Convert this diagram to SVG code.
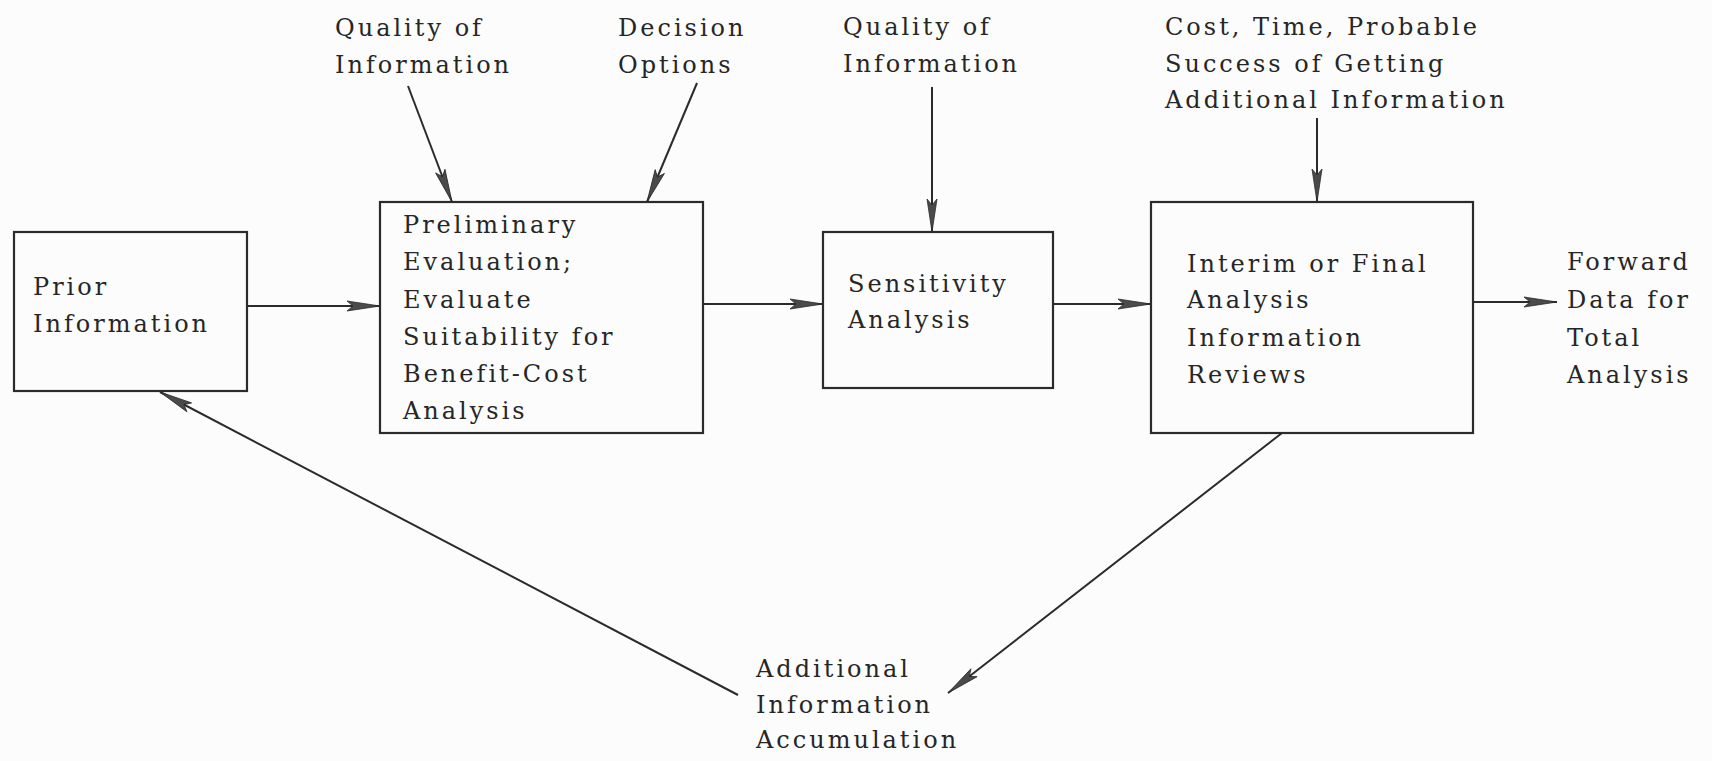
<svg xmlns="http://www.w3.org/2000/svg" width="1712" height="761" viewBox="0 0 1712 761">
  <style>
    .box { fill: none; stroke: #2b2b2b; stroke-width: 2.2; }
    .lbl { font-family: "DejaVu Serif", "Liberation Serif", serif; font-size: 24px; letter-spacing: 3px; fill: #262626; }
    .conn { stroke: #2b2b2b; stroke-width: 2; fill: none; marker-end: url(#arrow); }
  </style>
  <defs>
    <marker id="arrow" markerUnits="userSpaceOnUse" markerWidth="36" markerHeight="12" refX="34" refY="6" orient="auto">
      <path d="M34,6 L1,1 L7,6 L1,11 Z" fill="#4a4a4a" stroke="#2b2b2b" stroke-width="0.8"/>
    </marker>
  </defs>
  <rect width="1712" height="761" fill="#fcfcfc"/>

  <!-- connectors -->
  <g id="connectors">
    <line class="conn" x1="247" y1="306" x2="380" y2="306"/>
    <line class="conn" x1="703" y1="304" x2="823" y2="304"/>
    <line class="conn" x1="1053" y1="304" x2="1151" y2="304"/>
    <line class="conn" x1="1473" y1="302" x2="1557" y2="302"/>
    <line class="conn" x1="408" y1="86" x2="452" y2="202"/>
    <line class="conn" x1="697" y1="83" x2="647" y2="202"/>
    <line class="conn" x1="932" y1="87" x2="932" y2="232"/>
    <line class="conn" x1="1317" y1="118" x2="1317" y2="202"/>
    <line class="conn" x1="1282" y1="433" x2="948" y2="693"/>
    <line class="conn" x1="738" y1="695" x2="160" y2="392"/>
  </g>

  <!-- input labels -->
  <g id="quality-info-1">
    <text class="lbl" x="335" y="36">Quality of</text>
    <text class="lbl" x="335" y="73">Information</text>
  </g>
  <g id="decision-options">
    <text class="lbl" x="618" y="36">Decision</text>
    <text class="lbl" x="618" y="73">Options</text>
  </g>
  <g id="quality-info-2">
    <text class="lbl" x="843" y="35">Quality of</text>
    <text class="lbl" x="843" y="72">Information</text>
  </g>
  <g id="cost-time">
    <text class="lbl" x="1165" y="35">Cost, Time, Probable</text>
    <text class="lbl" x="1165" y="72">Success of Getting</text>
    <text class="lbl" x="1165" y="108">Additional Information</text>
  </g>

  <!-- process boxes -->
  <g id="prior-information">
    <rect class="box" x="14" y="232" width="233" height="159"/>
    <text class="lbl" x="33" y="295">Prior</text>
    <text class="lbl" x="33" y="332">Information</text>
  </g>
  <g id="preliminary-evaluation">
    <rect class="box" x="380" y="202" width="323" height="231"/>
    <text class="lbl" x="403" y="233">Preliminary</text>
    <text class="lbl" x="403" y="270">Evaluation;</text>
    <text class="lbl" x="403" y="308">Evaluate</text>
    <text class="lbl" x="403" y="345">Suitability for</text>
    <text class="lbl" x="403" y="382">Benefit-Cost</text>
    <text class="lbl" x="403" y="419">Analysis</text>
  </g>
  <g id="sensitivity-analysis">
    <rect class="box" x="823" y="232" width="230" height="156"/>
    <text class="lbl" x="848" y="292">Sensitivity</text>
    <text class="lbl" x="848" y="328">Analysis</text>
  </g>
  <g id="interim-final">
    <rect class="box" x="1151" y="202" width="322" height="231"/>
    <text class="lbl" x="1187" y="272">Interim or Final</text>
    <text class="lbl" x="1187" y="308">Analysis</text>
    <text class="lbl" x="1187" y="346">Information</text>
    <text class="lbl" x="1187" y="383">Reviews</text>
  </g>

  <!-- outputs -->
  <g id="forward-data">
    <text class="lbl" x="1567" y="270">Forward</text>
    <text class="lbl" x="1567" y="308">Data for</text>
    <text class="lbl" x="1567" y="346">Total</text>
    <text class="lbl" x="1567" y="383">Analysis</text>
  </g>
  <g id="additional-accumulation">
    <text class="lbl" x="756" y="677">Additional</text>
    <text class="lbl" x="756" y="713">Information</text>
    <text class="lbl" x="756" y="748">Accumulation</text>
  </g>
</svg>
